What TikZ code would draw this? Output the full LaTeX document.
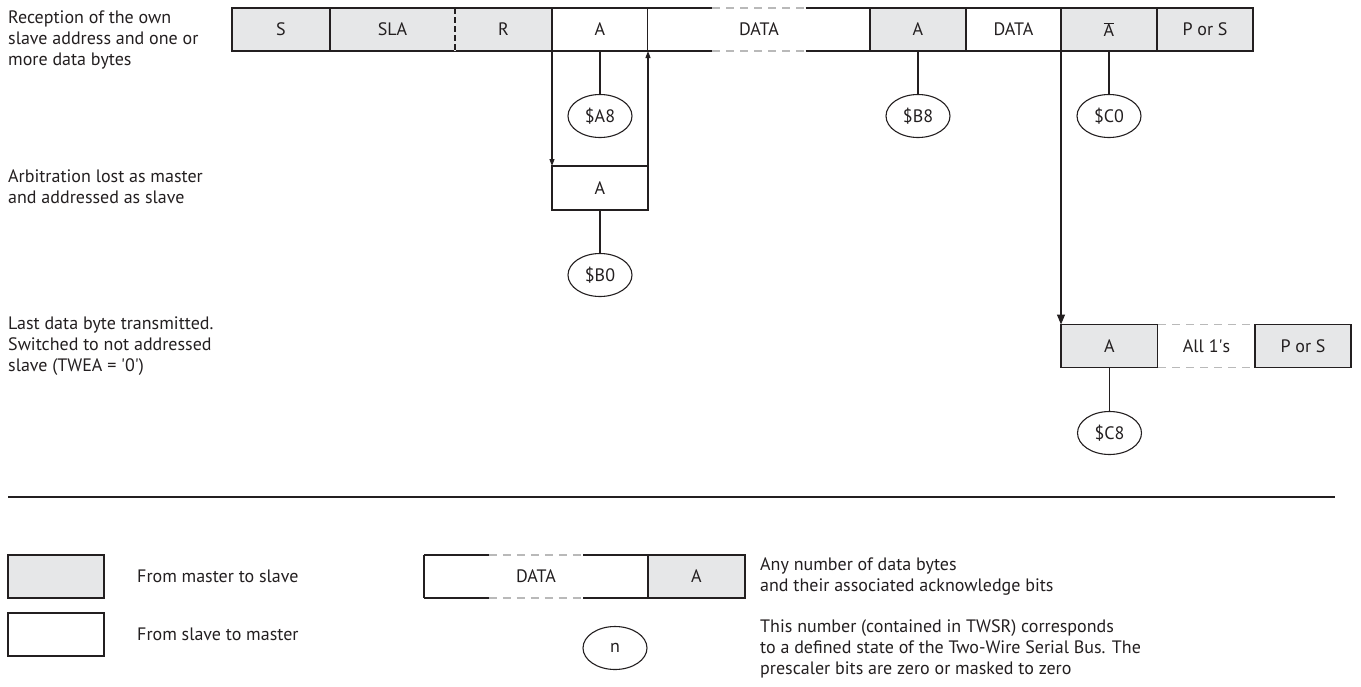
\documentclass[tikz,border=0pt]{standalone}
\usepackage{fontspec}
\setmainfont{PT Sans}
\usetikzlibrary{arrows.meta, positioning, shapes.geometric, calc}
\definecolor{mgray}{RGB}{230, 231, 232}
\definecolor{dgray}{RGB}{185, 185, 185}
\definecolor{ink}{RGB}{35, 31, 32}

\begin{document}
\begin{tikzpicture}[
  x=1pt, y=-1pt, color=ink,
  every node/.style={font=\fontsize{18}{21}\selectfont, text=ink},
  cell/.style={draw, line width=1.2pt, minimum height=43pt, inner sep=0pt, outer sep=0pt, anchor=west},
  mcell/.style={cell, fill=mgray},
  scell/.style={cell, fill=white},
  open/.style={fill=white, minimum height=43pt, inner sep=0pt, outer sep=0pt, anchor=west},
  state/.style={ellipse, draw, line width=1.1pt, minimum width=64pt, minimum height=43pt, inner sep=0pt},
  note/.style={align=left, anchor=west, inner sep=0pt},
  tick/.style={line width=1.1pt},
  gapline/.style={dgray, line width=1.1pt, dash pattern=on 8pt off 6pt},
  smallarr/.style={line width=1.1pt, -{Triangle[length=7pt, width=5pt]}},
  bigarr/.style={line width=1.3pt, -{Triangle[length=10pt, width=8pt]}}
]
  \useasboundingbox (0,0) rectangle (1361,686);

  % Side notes
  \node[note] (n1) at (8,40) {Reception of the own\\slave address and one or\\more data bytes};
  \node[note] (n2) at (8,187) {Arbitration lost as master\\and addressed as slave};
  \node[note] (n3) at (8,346) {Last data byte transmitted.\\Switched to not addressed\\slave (TWEA = \textquotesingle0\textquotesingle)};

  % Top row
  \node[mcell, minimum width=98pt] (s) at (232,29.5) {S};
  \node[mcell, minimum width=125pt, right=0pt of s] (sla) {SLA};
  \node[mcell, minimum width=97pt, right=0pt of sla] (r) {R};
  \node[scell, minimum width=96pt, right=0pt of r] (ta) {A};
  \node[open, minimum width=222pt, right=0pt of ta] (td) {DATA};
  \node[mcell, minimum width=96pt, right=0pt of td] (tb) {A};
  \node[scell, minimum width=95pt, right=0pt of tb] (td2) {DATA};
  \node[mcell, minimum width=96pt, right=0pt of td2] (tn) {$\overline{\mbox{A}}$};
  \node[mcell, minimum width=96pt, right=0pt of tn] (tp) {P or S};
  \draw[mgray, line width=1.8pt] (sla.north east) -- (sla.south east);
  \draw[line width=1.1pt, dash pattern=on 6pt off 3pt] (sla.north east) -- (sla.south east);
  \foreach \a/\b in {north west/north east, south west/south east} {
    \draw[line width=1.2pt] (td.\a) -- ($(td.\a)!.29!(td.\b)$);
    \draw[gapline] ($(td.\a)!.29!(td.\b)$) -- ($(td.\a)!.71!(td.\b)$);
    \draw[line width=1.2pt] ($(td.\a)!.71!(td.\b)$) -- (td.\b);
  }

  % States of the top row
  \node[state] (a8) at (600,116) {\$A8};
  \node[state] (b8) at (tb |- a8) {\$B8};
  \node[state] (c0) at (tn |- a8) {\$C0};
  \draw[tick] (ta.south) -- (a8.north);
  \draw[tick] (tb.south) -- (b8.north);
  \draw[tick] (tn.south) -- (c0.north);

  % Arbitration lost
  \node[scell, minimum width=96pt, minimum height=44pt] (la) at (552,188) {A};
  \node[state] (b0) at (600,275) {\$B0};
  \draw[smallarr] (ta.south west) -- (la.north west);
  \draw[smallarr] (la.north east) -- (ta.south east);
  \draw[tick] (la.south) -- (b0.north);

  % Last data byte
  \node[mcell, minimum width=97pt] (ba) at (1061,346) {A};
  \node[open, minimum width=97pt, right=0pt of ba] (ones) {All 1\textquotesingle s};
  \node[mcell, minimum width=96pt, right=0pt of ones] (bp) {P or S};
  \draw[gapline] (ones.north west) -- (ones.north east);
  \draw[gapline] (ones.south west) -- (ones.south east);
  \node[state] (c8) at (1109.5,433) {\$C8};
  \draw[bigarr] (tn.south west) -- (ba.north west);
  \draw[tick] (ba.south) -- (c8.north);

  % Separator
  \draw[line width=1.2pt] (8,497) -- (1335,497);

  % Legend
  \node[mcell, minimum width=96pt] (lg) at (8,576.5) {};
  \node[scell, minimum width=96pt] (lw) at (8,634.5) {};
  \node[note] (lgt) at (137,576.5) {From master to slave};
  \node[note] (lwt) at (137,634.5) {From slave to master};
  \node[open, minimum width=224pt] (ld) at (424,576.5) {DATA};
  \node[mcell, minimum width=97pt, right=0pt of ld] (lb) {A};
  \draw[line width=1.2pt] (ld.north west) -- (ld.south west);
  \foreach \a/\b in {north west/north east, south west/south east} {
    \draw[line width=1.2pt] (ld.\a) -- ($(ld.\a)!.29!(ld.\b)$);
    \draw[gapline] ($(ld.\a)!.29!(ld.\b)$) -- ($(ld.\a)!.71!(ld.\b)$);
    \draw[line width=1.2pt] ($(ld.\a)!.71!(ld.\b)$) -- (ld.\b);
  }
  \node[state] (ln) at (615,648) {n};
  \node[note] (lany) at (760,576.5) {Any number of data bytes\\and their associated acknowledge bits};
  \node[note] (lthis) at (760,649) {This number (contained in TWSR) corresponds\\to a defined state of the Two-Wire Serial Bus. The\\prescaler bits are zero or masked to zero};
\end{tikzpicture}
\end{document}
